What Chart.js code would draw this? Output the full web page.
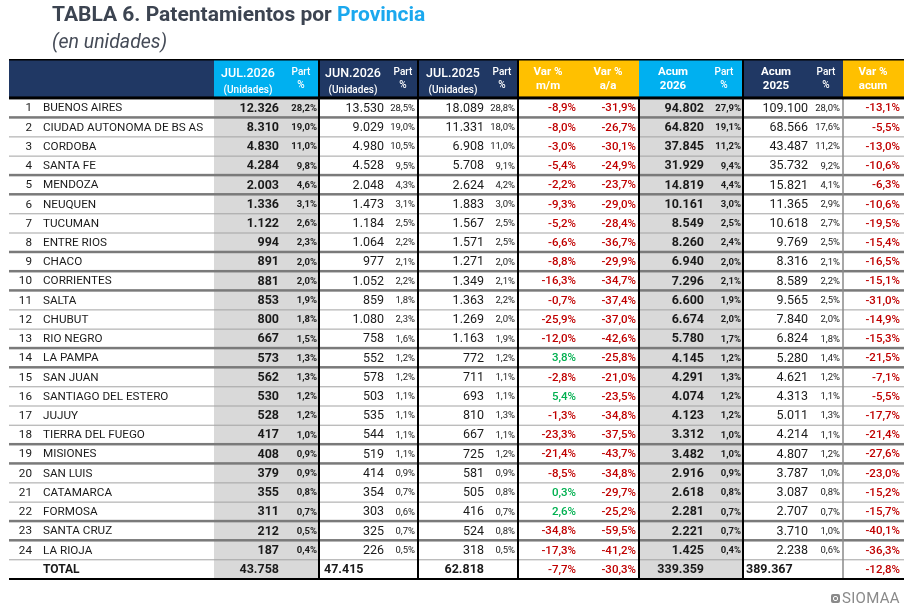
<!DOCTYPE html>
<html>
<head>
<meta charset="utf-8">
<script src="https://cdn.jsdelivr.net/npm/chart.js@4/dist/chart.umd.min.js"></script>
<style>
  html, body { margin: 0; padding: 0; background: #fff; }
  #wrap { position: relative; width: 914px; height: 610px; overflow: hidden; }
  #table { position: absolute; left: 0; top: 0; }
  .title { position: absolute; left: 52px; top: 2px; font: bold 21px Roboto, sans-serif; color: #3c4451; white-space: nowrap; }
  .title span { color: #1ba8ee; }
  .sub { position: absolute; left: 52px; top: 30px; font: italic 19.5px Roboto, sans-serif; color: #454b57; }
  .logo { position: absolute; left: 831px; top: 589px; font: 15px Roboto, sans-serif; color: #8a8a8a; display: flex; align-items: center; letter-spacing: 0.3px; }
  .logo i { display: inline-block; width: 9px; height: 9px; background: #8a8a8a; border-radius: 2px; margin-right: 2px; position: relative; }
  .logo i::after { content: ''; position: absolute; left: 2px; top: 2px; width: 3px; height: 3px; border: 1px solid #fff; border-radius: 2px; }
</style>
</head>
<body>
<div id="wrap">
  <canvas id="table" width="914" height="610"></canvas>
  <div class="title">TABLA 6. Patentamientos por <span>Provincia</span></div>
  <div class="sub">(en unidades)</div>
  <div class="logo"><i></i>SIOMAA</div>
</div>
<script>
// ── Data ──────────────────────────────────────────────────────────────────────

const provinces = [
  'BUENOS AIRES', 'CIUDAD AUTONOMA DE BS AS', 'CORDOBA', 'SANTA FE', 'MENDOZA', 'NEUQUEN',
  'TUCUMAN', 'ENTRE RIOS', 'CHACO', 'CORRIENTES', 'SALTA', 'CHUBUT', 'RIO NEGRO', 'LA PAMPA',
  'SAN JUAN', 'SANTIAGO DEL ESTERO', 'JUJUY', 'TIERRA DEL FUEGO', 'MISIONES', 'SAN LUIS',
  'CATAMARCA', 'FORMOSA', 'SANTA CRUZ', 'LA RIOJA',
];
const jul2026      = [12326, 8310, 4830, 4284, 2003, 1336, 1122, 994, 891, 881, 853, 800, 667, 573, 562, 530, 528, 417, 408, 379, 355, 311, 212, 187];
const jul2026Part  = [28.2, 19.0, 11.0, 9.8, 4.6, 3.1, 2.6, 2.3, 2.0, 2.0, 1.9, 1.8, 1.5, 1.3, 1.3, 1.2, 1.2, 1.0, 0.9, 0.9, 0.8, 0.7, 0.5, 0.4];
const jun2026      = [13530, 9029, 4980, 4528, 2048, 1473, 1184, 1064, 977, 1052, 859, 1080, 758, 552, 578, 503, 535, 544, 519, 414, 354, 303, 325, 226];
const jun2026Part  = [28.5, 19.0, 10.5, 9.5, 4.3, 3.1, 2.5, 2.2, 2.1, 2.2, 1.8, 2.3, 1.6, 1.2, 1.2, 1.1, 1.1, 1.1, 1.1, 0.9, 0.7, 0.6, 0.7, 0.5];
const jul2025      = [18089, 11331, 6908, 5708, 2624, 1883, 1567, 1571, 1271, 1349, 1363, 1269, 1163, 772, 711, 693, 810, 667, 725, 581, 505, 416, 524, 318];
const jul2025Part  = [28.8, 18.0, 11.0, 9.1, 4.2, 3.0, 2.5, 2.5, 2.0, 2.1, 2.2, 2.0, 1.9, 1.2, 1.1, 1.1, 1.3, 1.1, 1.2, 0.9, 0.8, 0.7, 0.8, 0.5];
const varMM        = [-8.9, -8.0, -3.0, -5.4, -2.2, -9.3, -5.2, -6.6, -8.8, -16.3, -0.7, -25.9, -12.0, 3.8, -2.8, 5.4, -1.3, -23.3, -21.4, -8.5, 0.3, 2.6, -34.8, -17.3];
const varAA        = [-31.9, -26.7, -30.1, -24.9, -23.7, -29.0, -28.4, -36.7, -29.9, -34.7, -37.4, -37.0, -42.6, -25.8, -21.0, -23.5, -34.8, -37.5, -43.7, -34.8, -29.7, -25.2, -59.5, -41.2];
const acum2026     = [94802, 64820, 37845, 31929, 14819, 10161, 8549, 8260, 6940, 7296, 6600, 6674, 5780, 4145, 4291, 4074, 4123, 3312, 3482, 2916, 2618, 2281, 2221, 1425];
const acum2026Part = [27.9, 19.1, 11.2, 9.4, 4.4, 3.0, 2.5, 2.4, 2.0, 2.1, 1.9, 2.0, 1.7, 1.2, 1.3, 1.2, 1.2, 1.0, 1.0, 0.9, 0.8, 0.7, 0.7, 0.4];
const acum2025     = [109100, 68566, 43487, 35732, 15821, 11365, 10618, 9769, 8316, 8589, 9565, 7840, 6824, 5280, 4621, 4313, 5011, 4214, 4807, 3787, 3087, 2707, 3710, 2238];
const acum2025Part = [28.0, 17.6, 11.2, 9.2, 4.1, 2.9, 2.7, 2.5, 2.1, 2.2, 2.5, 2.0, 1.8, 1.4, 1.2, 1.1, 1.3, 1.1, 1.2, 1.0, 0.8, 0.7, 1.0, 0.6];
const varAcum      = [-13.1, -5.5, -13.0, -10.6, -6.3, -10.6, -19.5, -15.4, -16.5, -15.1, -31.0, -14.9, -15.3, -21.5, -7.1, -5.5, -17.7, -21.4, -27.6, -23.0, -15.2, -15.7, -40.1, -36.3];

const totalLabel    = 'TOTAL';
const totalUnits    = [43758, 47415, 62818];   // JUL.2026, JUN.2026, JUL.2025
const totalVar      = [-7.7, -30.3];           // m/m, a/a
const totalAcum     = [339359, 389367];        // 2026, 2025
const totalVarAcum  = -12.8;

const headerLabels = [
  ['JUL.2026', '(Unidades)'], ['Part', '%'],
  ['JUN.2026', '(Unidades)'], ['Part', '%'],
  ['JUL.2025', '(Unidades)'], ['Part', '%'],
  ['Var %', 'm/m'], ['Var %', 'a/a'],
  ['Acum', '2026'], ['Part', '%'],
  ['Acum', '2025'], ['Part', '%'],
  ['Var %', 'acum'],
];

// rows that get the heavier separator underneath (as rendered in the source)
const heavyAfter = [1, 4, 5, 8, 9, 10, 13, 14, 18, 19, 22, 23];

// ── Layout / styles ───────────────────────────────────────────────────────────

const NAVY = '#203864', SKY = '#00b0f0', GOLD = '#ffc000', SHADE = '#d9d9d9';
const RED = '#c00000', GREEN = '#00b050', INK = '#1a1a1a';
const F = 'Roboto, sans-serif';

const bands = [
  { from: 9,   to: 214, fill: NAVY },
  { from: 214, to: 319, fill: SKY },
  { from: 319, to: 518, fill: NAVY },
  { from: 518, to: 639, fill: GOLD },
  { from: 639, to: 743, fill: SKY },
  { from: 743, to: 843, fill: NAVY },
  { from: 843, to: 904, fill: GOLD },
];
const shaded = [[214, 319], [639, 743]];
const headerX = [248, 301, 353, 403, 453, 502, 548, 608, 673, 724, 776, 826, 873];

const fmtInt = (n) => String(n).replace(/\B(?=(\d{3})+(?!\d))/g, '.');
const fmtPct = (v) => v.toFixed(1).replace('.', ',') + '%';
const varColor = (v) => (v >= 0 ? GREEN : RED);

const cols = [
  { vals: jul2026,      fmt: fmtInt, x: 279, font: `bold 12.5px ${F}` },
  { vals: jul2026Part,  fmt: fmtPct, x: 317, font: `bold 9.5px ${F}` },
  { vals: jun2026,      fmt: fmtInt, x: 384, font: `12.5px ${F}` },
  { vals: jun2026Part,  fmt: fmtPct, x: 415, font: `9.5px ${F}` },
  { vals: jul2025,      fmt: fmtInt, x: 484, font: `12.5px ${F}` },
  { vals: jul2025Part,  fmt: fmtPct, x: 515, font: `9.5px ${F}` },
  { vals: varMM,        fmt: fmtPct, x: 576, font: `500 11.5px ${F}`, color: varColor },
  { vals: varAA,        fmt: fmtPct, x: 636, font: `500 11.5px ${F}`, color: varColor },
  { vals: acum2026,     fmt: fmtInt, x: 704, font: `bold 12.5px ${F}` },
  { vals: acum2026Part, fmt: fmtPct, x: 741, font: `bold 9.5px ${F}` },
  { vals: acum2025,     fmt: fmtInt, x: 808, font: `12.5px ${F}` },
  { vals: acum2025Part, fmt: fmtPct, x: 840, font: `9.5px ${F}` },
  { vals: varAcum,      fmt: fmtPct, x: 900, font: `500 11.5px ${F}`, color: varColor },
];

const totalCells = [
  { text: fmtInt(totalUnits[0]), x: 279, align: 'right' },
  { text: fmtInt(totalUnits[1]), x: 324, align: 'left' },
  { text: fmtInt(totalUnits[2]), x: 484, align: 'right' },
  { text: fmtPct(totalVar[0]),   x: 576, align: 'right', color: varColor(totalVar[0]) },
  { text: fmtPct(totalVar[1]),   x: 636, align: 'right', color: varColor(totalVar[1]) },
  { text: fmtInt(totalAcum[0]),  x: 704, align: 'right' },
  { text: fmtInt(totalAcum[1]),  x: 746, align: 'left' },
  { text: fmtPct(totalVarAcum),  x: 900, align: 'right', color: varColor(totalVarAcum) },
];

// ── Table drawn on the chart's scales ─────────────────────────────────────────

const tablePlugin = {
  id: 'table',
  afterDraw(chart) {
    const { ctx, scales: { x, y } } = chart;
    const X = (v) => x.getPixelForValue(v);
    const Y = (v) => y.getPixelForValue(v);
    const n = provinces.length;
    const top = Y(-1.5), hBot = Y(0.5), bot = Y(n + 1.5);

    ctx.save();

    // shaded columns
    ctx.fillStyle = SHADE;
    shaded.forEach(([a, b]) => ctx.fillRect(X(a), hBot, X(b) - X(a), bot - hBot));

    // header bands
    bands.forEach((b) => {
      ctx.fillStyle = b.fill;
      ctx.fillRect(X(b.from), top, X(b.to) - X(b.from), hBot - top);
    });

    // row separators
    for (let i = 1; i <= n; i++) {
      const heavy = heavyAfter.includes(i);
      ctx.fillStyle = heavy ? '#7a7a7a' : '#a3a3a3';
      const yy = Y(i + 0.5);
      ctx.fillRect(X(9), yy - (heavy ? 1.5 : 0.5), X(904) - X(9), heavy ? 2.5 : 1);
    }

    // vertical rules
    const vline = (xv, y0, y1, color, w) => {
      ctx.fillStyle = color;
      ctx.fillRect(X(xv) - w / 2, y0, w, y1 - y0);
    };
    [319, 418, 518, 743].forEach((v) => vline(v, top, bot, '#000', 2));
    vline(639, hBot, bot, '#000', 2);
    vline(843, hBot, bot, '#8a8a8a', 1.5);

    // header / total borders
    ctx.fillStyle = '#000';
    ctx.fillRect(X(9), top - 1, X(904) - X(9), 1.5);
    ctx.fillRect(X(9), hBot - 2, X(904) - X(9), 3);
    ctx.fillRect(X(9), bot - 1, X(904) - X(9), 2);

    // header labels
    ctx.fillStyle = '#fff';
    ctx.textAlign = 'center';
    ctx.textBaseline = 'middle';
    headerLabels.forEach(([l1, l2], i) => {
      const cx = X(headerX[i]);
      if (l1 === 'Part') {
        ctx.font = `500 10px ${F}`;
        ctx.fillText(l1, cx, Y(-0.85));
        ctx.fillText(l2, cx, Y(-0.17));
      } else if (l2 === '(Unidades)') {
        ctx.font = `500 12.5px ${F}`;
        ctx.fillText(l1, cx, Y(-0.8));
        ctx.font = `500 10px ${F}`;
        ctx.fillText(l2, cx, Y(0.1));
      } else {
        ctx.font = `bold 11.5px ${F}`;
        ctx.fillText(l1, cx, Y(-0.88));
        ctx.fillText(l2, cx, Y(-0.13));
      }
    });

    // body rows
    for (let i = 0; i < n; i++) {
      const cy = Y(i + 1) + 0.5;
      ctx.fillStyle = INK;
      ctx.font = `11.7px ${F}`;
      ctx.textAlign = 'right';
      ctx.fillText(String(i + 1), X(32), cy);
      ctx.textAlign = 'left';
      ctx.fillText(provinces[i], X(43), cy);
      ctx.textAlign = 'right';
      cols.forEach((c) => {
        const v = c.vals[i];
        ctx.font = c.font;
        ctx.fillStyle = c.color ? c.color(v) : INK;
        ctx.fillText(c.fmt(v), X(c.x), cy);
      });
    }

    // total row
    const ty = Y(n + 1) + 0.5;
    ctx.font = `bold 12px ${F}`;
    ctx.fillStyle = INK;
    ctx.textAlign = 'left';
    ctx.fillText(totalLabel, X(43), ty);
    totalCells.forEach((c) => {
      ctx.font = c.color ? `500 11.5px ${F}` : `bold 12.5px ${F}`;
      ctx.fillStyle = c.color || INK;
      ctx.textAlign = c.align;
      ctx.fillText(c.text, X(c.x), ty);
    });

    ctx.restore();
  },
};

new Chart(document.getElementById('table'), {
  type: 'scatter',
  data: { datasets: [] },
  options: {
    responsive: false,
    animation: false,
    events: [],
    layout: { padding: { top: 60, bottom: 31, left: 0, right: 0 } },
    scales: {
      x: { type: 'linear', min: 0, max: 914, display: false },
      y: { type: 'linear', min: -1.5, max: provinces.length + 1.5, reverse: true, display: false },
    },
    plugins: { legend: { display: false }, tooltip: { enabled: false } },
  },
  plugins: [tablePlugin],
});
</script>
</body>
</html>
